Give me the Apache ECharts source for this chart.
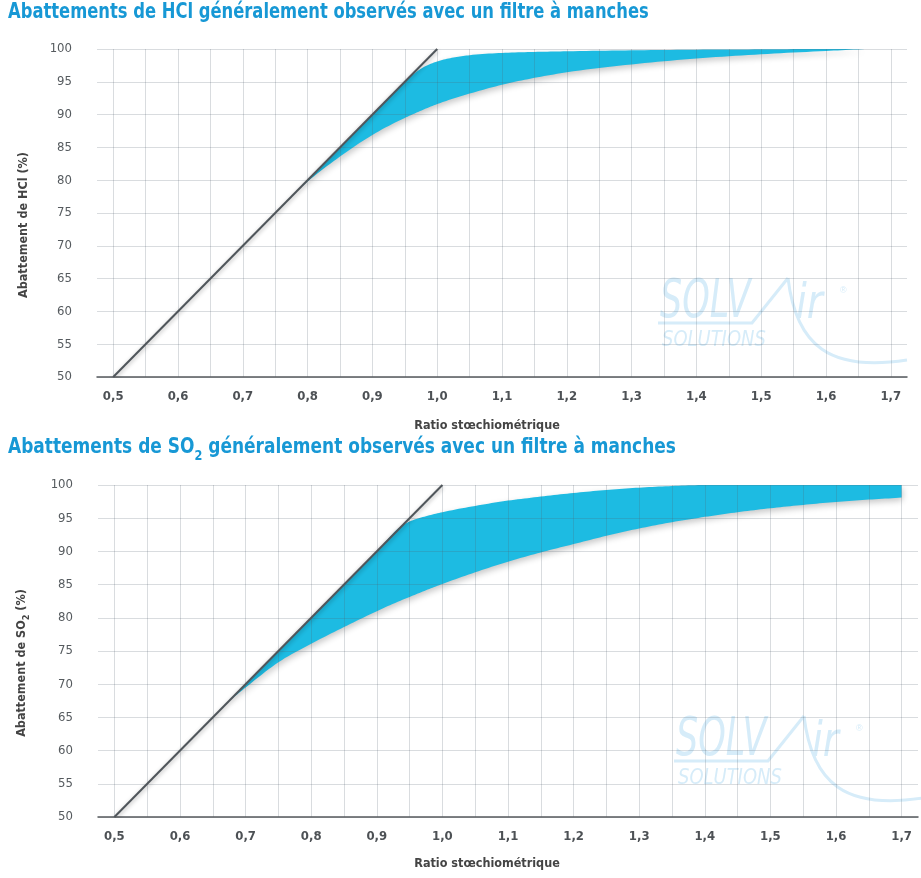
<!DOCTYPE html>
<html>
<head>
<meta charset="utf-8">
<script src="https://cdn.jsdelivr.net/npm/echarts@6/dist/echarts.min.js"></script>
<style>
  html, body { margin: 0; padding: 0; background: #ffffff; }
  #chart { width: 921px; height: 878px; }
</style>
</head>
<body>
<div id="chart"></div>
<script>
// Tick values shown on the axes
const ratioTicks = [0.5, 0.6, 0.7, 0.8, 0.9, 1.0, 1.1, 1.2, 1.3, 1.4, 1.5, 1.6, 1.7];
const abatementTicks = [50, 55, 60, 65, 70, 75, 80, 85, 90, 95, 100];

// Stoichiometric reference line (abatement = 100 x ratio)
const idealRatio = [0.5, 1.0];
const idealAbatement = [50, 100];

// HCl abatement range observed with a bag filter
const hclRatio = [0.785, 0.8, 0.85, 0.9, 0.95, 0.96, 0.975, 1.0, 1.025, 1.05, 1.1, 1.15, 1.2, 1.3, 1.4, 1.5, 1.6, 1.66];
const hclLow   = [78.5, 79.8, 83.6, 86.9, 89.5, 89.95, 90.6, 91.6, 92.45, 93.2, 94.55, 95.6, 96.45, 97.65, 98.55, 99.2, 99.7, 100];
const hclHigh  = [78.5, 80.0, 85.0, 90.0, 95.0, 95.9, 97.0, 98.1, 98.7, 99.05, 99.4, 99.55, 99.65, 99.8, 99.9, 99.95, 100, 100];

// SO2 abatement range observed with a bag filter
const so2Ratio = [0.675, 0.7, 0.75, 0.8, 0.85, 0.9, 0.94, 0.95, 0.975, 1.0, 1.05, 1.1, 1.15, 1.2, 1.25, 1.3, 1.35, 1.4, 1.45, 1.5, 1.55, 1.6, 1.65, 1.7];
const so2Low   = [67.5, 69.5, 73.3, 76.1, 78.6, 81.0, 82.75, 83.15, 84.15, 85.1, 86.85, 88.45, 89.85, 91.1, 92.35, 93.45, 94.4, 95.2, 95.9, 96.5, 97.0, 97.45, 97.8, 98.1];
const so2High  = [67.5, 70.0, 75.0, 80.0, 85.0, 90.0, 94.0, 94.5, 95.3, 95.9, 96.85, 97.65, 98.25, 98.8, 99.25, 99.6, 99.85, 100, 100, 100, 100, 100, 100, 100];

const bandColor = '#1dbbe2';
const gridLineColor = 'rgba(80,95,110,0.22)';
const titleColor = '#1798d5';
const watermarkColor = '#d6ecf9';
const narrow = "'Liberation Sans Narrow', 'DejaVu Sans Condensed', 'Roboto', sans-serif";
const titleFont = "bold 21px 'DejaVu Sans Condensed', 'Open Sans', sans-serif";

function ratioLabel(v) {
  const k = Math.round(v * 10);
  if (Math.abs(v * 10 - k) > 1e-6) return '';
  const r = k / 10;
  return ratioTicks.indexOf(r) >= 0 ? r.toFixed(1).replace('.', ',') : '';
}

// Monotone (Steffen) cubic through pixel points, sampled into a dense polyline
function monotoneCurve(pts, steps) {
  const n = pts.length;
  if (n < 3) return pts.slice();
  const h = [], d = [], m = new Array(n);
  for (let i = 0; i < n - 1; i++) {
    h.push(pts[i + 1][0] - pts[i][0]);
    d.push((pts[i + 1][1] - pts[i][1]) / h[i]);
  }
  m[0] = d[0];
  m[n - 1] = d[n - 2];
  for (let i = 1; i < n - 1; i++) {
    const p = (d[i - 1] * h[i] + d[i] * h[i - 1]) / (h[i - 1] + h[i]);
    m[i] = (Math.sign(d[i - 1]) + Math.sign(d[i])) *
      Math.min(Math.abs(d[i - 1]), Math.abs(d[i]), 0.5 * Math.abs(p));
  }
  const out = [pts[0]];
  for (let i = 0; i < n - 1; i++) {
    const x0 = pts[i][0], y0 = pts[i][1], y1 = pts[i + 1][1], hi = h[i];
    for (let s = 1; s <= steps; s++) {
      const t = s / steps, t2 = t * t, t3 = t2 * t;
      const y = (2 * t3 - 3 * t2 + 1) * y0 + (t3 - 2 * t2 + t) * hi * m[i] +
        (-2 * t3 + 3 * t2) * y1 + (t3 - t2) * hi * m[i + 1];
      out.push([x0 + t * hi, y]);
    }
  }
  return out;
}

function bandRenderer(xs, lows, highs) {
  return function (params, api) {
    if (params.dataIndexInside !== 0) return;
    const top = xs.map(function (x, i) { return api.coord([x, highs[i]]); });
    const bottom = xs.map(function (x, i) { return api.coord([x, lows[i]]); });
    const pts = monotoneCurve(top, 10).concat(monotoneCurve(bottom, 10).reverse());
    return {
      type: 'polygon',
      shape: { points: pts },
      style: {
        fill: bandColor,
        shadowBlur: 6,
        shadowColor: 'rgba(0,0,0,0.22)',
        shadowOffsetX: 1,
        shadowOffsetY: 3
      }
    };
  };
}

function xAxisFor(gridIndex, nameGap, namePad) {
  return {
    gridIndex: gridIndex,
    type: 'value',
    min: 0.475,
    max: 1.725,
    interval: 0.025,
    z: 3,
    axisLine: { show: true, onZero: false, lineStyle: { color: '#555a5e', width: 1.5 } },
    axisTick: { show: false },
    splitLine: { show: true, lineStyle: { color: ['rgba(0,0,0,0)', gridLineColor], width: 1 } },
    axisLabel: {
      formatter: ratioLabel,
      color: '#4d5155',
      fontFamily: narrow,
      fontWeight: 'bold',
      fontSize: 13,
      margin: 13
    },
    name: 'Ratio stœchiométrique',
    nameLocation: 'middle',
    nameGap: nameGap,
    nameTextStyle: {
      color: '#444',
      fontFamily: narrow,
      fontWeight: 'bold',
      fontSize: 12.5,
      padding: [0, namePad, 0, 0]
    }
  };
}

function yAxisFor(gridIndex, name, rich) {
  return {
    gridIndex: gridIndex,
    type: 'value',
    min: 50,
    max: 100,
    interval: 5,
    z: 3,
    axisLine: { show: false },
    axisTick: { show: false },
    splitLine: { show: true, lineStyle: { color: gridLineColor, width: 1 } },
    axisLabel: {
      formatter: function (v) { return abatementTicks.indexOf(v) >= 0 ? String(v) : ''; },
      color: '#555a5e',
      fontFamily: narrow,
      fontSize: 13,
      margin: 25
    },
    name: name,
    nameLocation: 'middle',
    nameRotate: 90,
    nameGap: 67,
    nameTextStyle: {
      color: '#444',
      fontFamily: narrow,
      fontWeight: 'bold',
      fontSize: 12.5,
      padding: [0, 24, 0, 0],
      rich: rich
    }
  };
}

function watermark(x, y) {
  const stroke = { stroke: watermarkColor, lineWidth: 3, fill: null };
  return {
    type: 'group',
    x: x,
    y: y,
    z: 0,
    silent: true,
    children: [
      { type: 'text', x: 0, y: 0, scaleX: 0.72, style: { text: 'SOLV', font: "italic 54px 'DejaVu Sans Condensed', sans-serif", fill: watermarkColor } },
      { type: 'polyline', shape: { points: [[-2, 47], [92, 47], [128, 2]] }, style: stroke },
      { type: 'bezierCurve', shape: { x1: 128, y1: 2, cpx1: 136, cpy1: 70, cpx2: 170, cpy2: 96, x2: 247, y2: 84 }, style: stroke },
      { type: 'text', x: 136, y: 6, scaleX: 0.9, style: { text: 'ir', font: "italic 48px 'DejaVu Sans Condensed', sans-serif", fill: watermarkColor } },
      { type: 'text', x: 180, y: 10, style: { text: '®', font: "9px sans-serif", fill: watermarkColor } },
      { type: 'text', x: 2, y: 54, scaleX: 0.95, style: { text: 'SOLUTIONS', font: "italic 21px 'DejaVu Sans Condensed', sans-serif", fill: watermarkColor } }
    ]
  };
}

const chart = echarts.init(document.getElementById('chart'), null, { renderer: 'canvas' });

const option = {
  backgroundColor: '#ffffff',
  animation: false,
  graphic: [
    watermark(660, 276),
    watermark(676, 714),
    {
      type: 'text',
      x: 8,
      y: 2,
      scaleX: 0.866,
      z: 10,
      style: {
        text: 'Abattements de HCl généralement observés avec un filtre à manches',
        font: titleFont,
        fill: titleColor
      }
    },
    {
      type: 'text',
      x: 8,
      y: 437,
      scaleX: 0.9,
      z: 10,
      style: {
        text: '{m|Abattements de SO}{sub|2}{m| généralement observés avec un filtre à manches}',
        font: titleFont,
        fill: titleColor,
        rich: {
          m: { font: titleFont, fill: titleColor, lineHeight: 26, verticalAlign: 'top' },
          sub: { font: "bold 14px 'DejaVu Sans Condensed', sans-serif", fill: titleColor, lineHeight: 14, verticalAlign: 'bottom' }
        }
      }
    }
  ],
  grid: [
    { left: 97, top: 49, width: 810, height: 328 },
    { left: 98, top: 485, width: 820, height: 332 }
  ],
  xAxis: [xAxisFor(0, 42, 30), xAxisFor(1, 40, 42)],
  yAxis: [
    yAxisFor(0, 'Abattement de HCl (%)', null),
    yAxisFor(1, '{m|Abattement de SO}{sub|2}{m| (%)}', {
      m: { color: '#444', fontFamily: narrow, fontWeight: 'bold', fontSize: 12.5, lineHeight: 16, verticalAlign: 'top' },
      sub: { color: '#444', fontFamily: narrow, fontWeight: 'bold', fontSize: 9, lineHeight: 9, verticalAlign: 'bottom' }
    })
  ],
  series: [
    {
      type: 'custom',
      name: 'HCl',
      xAxisIndex: 0,
      yAxisIndex: 0,
      z: 1,
      clip: true,
      renderItem: bandRenderer(hclRatio, hclLow, hclHigh),
      encode: { x: 0, y: [1, 2] },
      data: hclRatio.map(function (x, i) { return [x, hclLow[i], hclHigh[i]]; })
    },
    {
      type: 'line',
      xAxisIndex: 0,
      yAxisIndex: 0,
      z: 5,
      symbol: 'none',
      lineStyle: { color: '#50565b', width: 2, shadowBlur: 4, shadowColor: 'rgba(0,0,0,0.3)', shadowOffsetY: 2 },
      data: idealRatio.map(function (x, i) { return [x, idealAbatement[i]]; })
    },
    {
      type: 'custom',
      name: 'SO2',
      xAxisIndex: 1,
      yAxisIndex: 1,
      z: 1,
      clip: true,
      renderItem: bandRenderer(so2Ratio, so2Low, so2High),
      encode: { x: 0, y: [1, 2] },
      data: so2Ratio.map(function (x, i) { return [x, so2Low[i], so2High[i]]; })
    },
    {
      type: 'line',
      xAxisIndex: 1,
      yAxisIndex: 1,
      z: 5,
      symbol: 'none',
      lineStyle: { color: '#50565b', width: 2, shadowBlur: 4, shadowColor: 'rgba(0,0,0,0.3)', shadowOffsetY: 2 },
      data: idealRatio.map(function (x, i) { return [x, idealAbatement[i]]; })
    }
  ]
};

chart.setOption(option);
</script>
</body>
</html>
